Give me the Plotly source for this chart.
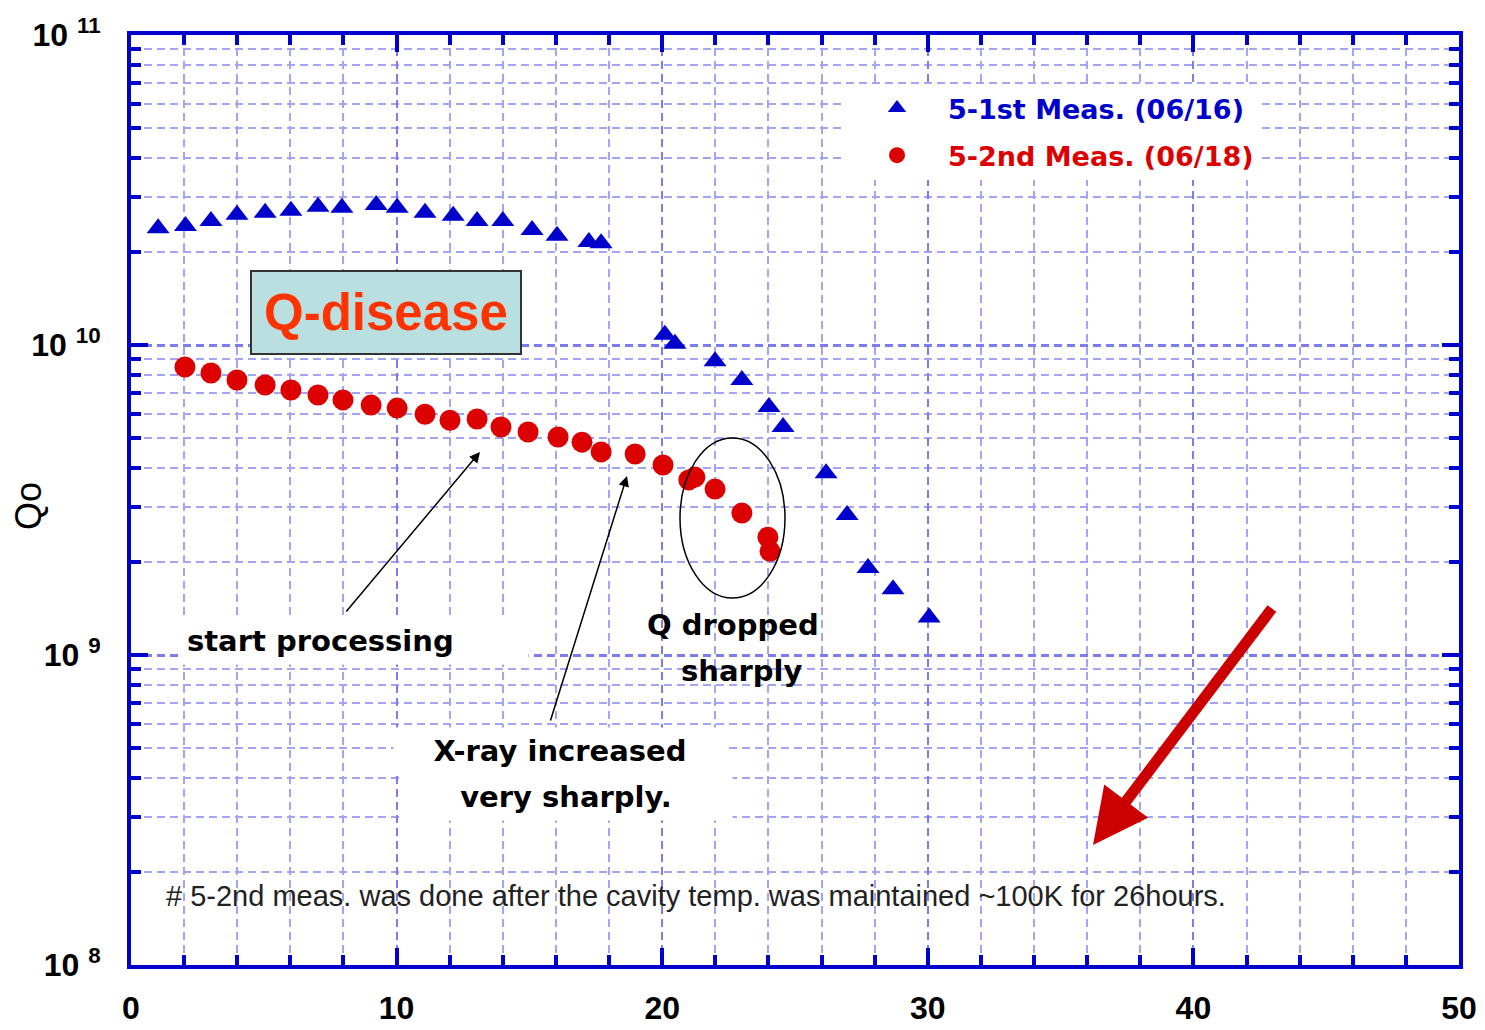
import plotly.graph_objects as go

# ---- data ----
e1_x = [1.02, 2.05, 3.01, 3.99, 5.05, 6.02, 7.04, 7.94, 9.23, 10.02, 11.07, 12.13, 13.03,
        14.0, 15.1, 16.04, 17.24, 17.7,
        20.1, 20.48, 21.99, 23.0, 24.02, 24.55, 26.17, 26.96, 27.75, 28.69, 30.05]
e1_q = [2.38e10, 2.42e10, 2.51e10, 2.63e10, 2.67e10, 2.71e10, 2.79e10, 2.77e10, 2.83e10, 2.77e10,
        2.67e10, 2.61e10, 2.51e10, 2.51e10, 2.35e10, 2.25e10, 2.15e10, 2.13e10,
        1.08e10, 1.01e10, 8.87e9, 7.71e9, 6.31e9, 5.44e9, 3.86e9, 2.83e9, 1.91e9, 1.63e9, 1.32e9]

e2_x = [2.03, 3.01, 3.99, 5.05, 6.02, 7.04, 7.98, 9.04, 10.02, 11.07, 12.01, 13.03, 13.93,
        14.95, 16.08, 16.98, 17.7, 18.98, 20.03, 21.0, 21.23, 21.99, 23.0, 23.98, 24.06]
e2_q = [8.49e9, 8.12e9, 7.71e9, 7.43e9, 7.16e9, 6.90e9, 6.65e9, 6.40e9, 6.26e9, 5.98e9,
        5.72e9, 5.77e9, 5.44e9, 5.24e9, 5.05e9, 4.86e9, 4.52e9, 4.45e9, 4.10e9, 3.67e9,
        3.75e9, 3.43e9, 2.87e9, 2.40e9, 2.16e9]

name1 = "5-1st Meas. (06/16)"
name2 = "5-2nd Meas. (06/18)"
y_tickvals = [1e8, 1e9, 1e10, 1e11]
y_ticktext = ["<b>10 <sup>8</sup></b>", "<b>10 <sup>9</sup></b>", "<b>10 <sup>10</sup></b>", "<b>10 <sup>11</sup></b>"]
x_tickvals = [0, 10, 20, 30, 40, 50]
x_ticktext = ["<b>0</b>", "<b>10</b>", "<b>20</b>", "<b>30</b>", "<b>40</b>", "<b>50</b>"]

BLUE = "#0000cc"
RED = "#dd0000"
GRID = "#7c7cf0"
GRID_MINOR = "#a4a4f6"
ANN_FONT = "DejaVu Sans, Verdana, sans-serif"

y_minor = [k * 10.0 ** n for n in range(8, 11) for k in range(2, 10)]

fig = go.Figure()
fig.add_trace(go.Scatter(x=e1_x, y=e1_q, mode="markers", name=f"<span style='color:{BLUE}'><b>{name1}</b></span>",
                         marker=dict(symbol="triangle-up", size=20, color=BLUE), legendgroup="a"))
fig.add_trace(go.Scatter(x=e2_x, y=e2_q, mode="markers", name=f"<span style='color:{RED}'><b>{name2}</b></span>",
                         marker=dict(symbol="circle", size=21, color=RED), legendgroup="b"))

W, H = 1485, 1030
L, R, T, B = 131, 26, 35, 65
PW, PH = W - L - R, H - T - B


def px(xp):
    return (xp - L) / PW


def py(yp):
    return (H - B - yp) / PH


fig.update_layout(
    template="none",
    width=W, height=H,
    margin=dict(l=L, r=R, t=T, b=B, autoexpand=False),
    paper_bgcolor="white", plot_bgcolor="white",
    font=dict(family="Arial, Liberation Sans, sans-serif", color="black"),
    showlegend=True,
    legend=dict(x=px(846), y=py(84), xanchor="left", yanchor="top",
                bgcolor="white", borderwidth=0, font=dict(size=27, family=ANN_FONT),
                tracegroupgap=9, itemsizing="trace", itemwidth=92),
    xaxis=dict(range=[0, 50], tickmode="array", tickvals=x_tickvals, ticktext=x_ticktext, automargin=False,
               tickfont=dict(size=32), ticks="inside", ticklen=17, tickwidth=4, tickcolor=BLUE,
               showline=True, linewidth=4, linecolor=BLUE, mirror="allticks",
               showgrid=True, gridcolor=GRID, gridwidth=2, griddash="8px,5px", zeroline=False,
               ticklabelstandoff=12,
               minor=dict(dtick=2, ticks="inside", ticklen=10, tickwidth=4, tickcolor=BLUE,
                          showgrid=True, gridcolor=GRID_MINOR, gridwidth=1.5, griddash="8px,5px")),
    yaxis=dict(type="log", range=[8, 11], tickmode="array", tickvals=y_tickvals, ticktext=y_ticktext,
               automargin=False,
               tickfont=dict(size=32), ticks="inside", ticklen=17, tickwidth=4, tickcolor=BLUE,
               showline=True, linewidth=4, linecolor=BLUE, mirror="allticks",
               showgrid=True, gridcolor=GRID, gridwidth=2.5, griddash="8px,5px", zeroline=False,
               ticklabelstandoff=20,
               minor=dict(tickvals=y_minor, ticks="inside", ticklen=10, tickwidth=4, tickcolor=BLUE,
                          showgrid=True, gridcolor=GRID_MINOR, gridwidth=1.5, griddash="8px,5px")),
)

# white band behind footnote
fig.add_shape(type="rect", xref="paper", yref="paper", x0=0.003, x1=0.997, y0=py(917), y1=py(877),
              fillcolor="white", line=dict(width=0), layer="between")
# ellipse
fig.add_shape(type="circle", xref="paper", yref="paper", x0=px(680), x1=px(785), y0=py(598), y1=py(438),
              line=dict(color="black", width=1.5), layer="above")


def label(xp, yp, text, size=29, family=ANN_FONT, color="black", bg=None, xanchor="center", **kw):
    d = dict(x=px(xp), y=py(yp), xref="paper", yref="paper", text=text, showarrow=False,
             xanchor=xanchor, yanchor="middle", font=dict(size=size, family=family, color=color))
    if bg:
        d["bgcolor"] = bg
    d.update(kw)
    return d


anns = []
anns.append(label(386, 312, "<b>Q-disease</b>", size=51, family="Arial, Liberation Sans", color="#ff3300",
                  bg="#b9dfe1", bordercolor="#333333", borderwidth=2, borderpad=12))
anns.append(label(180, 641, "<b>start processing</b>", bg="white", xanchor="left", width=335, align="left",
                  borderpad=6))
anns.append(label(560, 751, "<b>X-ray increased</b>", bg="white", width=320, borderpad=6))
anns.append(label(566, 797, "<b>very sharply.</b>", bg="white", width=320, borderpad=6))
anns.append(label(733, 625, "<b>Q dropped</b>"))
anns.append(label(741, 671, "<b>sharply</b>"))
anns.append(label(164, 896, "# 5-2nd meas. was done after the cavity temp. was maintained ~100K for 26hours.",
                  size=29, family="Liberation Sans Narrow, Arial Narrow, Arial", color="#222222", xanchor="left"))
anns.append(label(28, 506, "Qo", size=36, family="Arial, Liberation Sans", textangle=-90))
# arrows
anns.append(dict(x=px(480), y=py(452), xref="paper", yref="paper", ax=345 - 480, ay=613 - 452, text="",
                 showarrow=True, arrowhead=2, arrowwidth=1.5, arrowsize=1.4, arrowcolor="black"))
anns.append(dict(x=px(627), y=py(476), xref="paper", yref="paper", ax=550 - 627, ay=722 - 476, text="",
                 showarrow=True, arrowhead=2, arrowwidth=1.5, arrowsize=1.4, arrowcolor="black"))
anns.append(dict(x=px(1093), y=py(845), xref="paper", yref="paper", ax=1273 - 1093, ay=607 - 845, text="",
                 showarrow=True, arrowhead=2, arrowwidth=11, arrowsize=1.0, arrowcolor="#cc0000"))
fig.update_layout(annotations=anns)

fig.write_html("out.html")
